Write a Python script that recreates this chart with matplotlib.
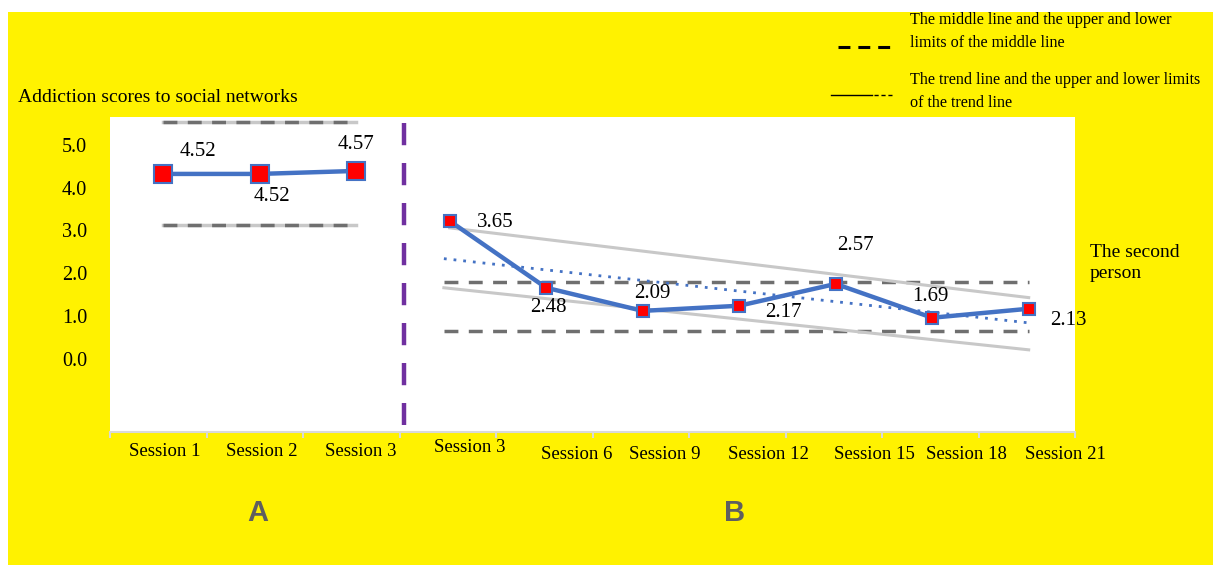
import matplotlib
matplotlib.use("Agg")
import matplotlib.pyplot as plt
import numpy as np
from matplotlib.patches import Rectangle
from matplotlib.transforms import blended_transform_factory

# Data (plotted positions on the y scale) and the printed labels
sessions_a = ["Session 1", "Session 2", "Session 3"]
sessions_b = ["Session 3", "Session 6", "Session 9", "Session 12", "Session 15", "Session 18", "Session 21"]
scores_a = [4.32, 4.32, 4.39]
scores_b = [3.22, 1.66, 1.12, 1.24, 1.75, 0.96, 1.17]
labels_a = ["4.52", "4.52", "4.57"]
labels_b = ["3.65", "2.48", "2.09", "2.17", "2.57", "1.69", "2.13"]

# middle line limits (upper, lower) and trend lines (start, end)
mid_a = [5.54, 3.13]
mid_b = [1.80, 0.65]
trend_upper = [3.06, 1.43]
trend_lower = [1.66, 0.21]
trend_mid = [2.34, 0.84]

yticks = [0.0, 1.0, 2.0, 3.0, 4.0, 5.0]

W, H = 1216, 566
YELLOW = "#fff200"
BLUE = "#4472c4"
SERIF = "Liberation Serif"


def fx(x):
    return x / W


def fy(y):
    return 1 - y / H


fig = plt.figure(figsize=(W / 100, H / 100), dpi=100)
fig.patch.set_facecolor("white")
fig.patches.append(Rectangle((fx(8), fy(565)), fx(1205), 553 / H, transform=fig.transFigure,
                             facecolor=YELLOW, edgecolor="none", zorder=-5))

ax = fig.add_axes([fx(110), fy(432), fx(965), 315 / H])
ax.set_zorder(2)
ax.set_facecolor("white")
ax.set_xlim(0, 10)
ax.set_ylim(-1.71, 5.65)
for s in ["top", "right", "left"]:
    ax.spines[s].set_visible(False)
ax.spines["bottom"].set_color("#d9d9d9")
ax.spines["bottom"].set_linewidth(1.5)
ax.set_xticks(np.arange(0, 11))
ax.set_xticklabels([])
ax.tick_params(axis="x", length=4, color="#d9d9d9", width=1.5)
ax.set_yticks(yticks)
ax.set_yticklabels([f"{v:.1f}" for v in yticks], fontfamily=SERIF, fontsize=14.5)
ax.tick_params(axis="y", length=0, pad=16.5)

xa = np.arange(len(scores_a)) + 0.55
xb = np.arange(len(scores_b)) + 3.52

# panel A: middle line limits
for v in mid_a:
    ax.plot([xa[0], xa[-1]], [v, v], color="#c8c8c8", lw=2.5, zorder=2)
    ax.plot([xa[0], xa[-1]], [v, v], color="#6f6f6f", lw=2.5, ls=(0, (4, 3)), zorder=2)
ax.plot(xa, scores_a, color=BLUE, lw=3.2, marker="s", ms=13.5, mfc="red", mec=BLUE, mew=1.5, zorder=4)
offs_a = [(35, 22), (12, -23), (0, 26)]
for x, y, t, o in zip(xa, scores_a, labels_a, offs_a):
    ax.annotate(t, (x, y), xytext=o, textcoords="offset pixels", ha="center", va="center",
                fontfamily=SERIF, fontsize=15)

# divider
ax.plot([3.05, 3.05], [5.52, -1.55], color="#7030a0", lw=3.2, ls=(0, (5, 4)), zorder=3)

# panel B: limits and trends
for v in mid_b:
    ax.plot([xb[0] - 0.06, xb[-1]], [v, v], color="#6f6f6f", lw=2.5, ls=(0, (4, 3)), zorder=2)
ax.plot([xb[0], xb[-1]], trend_upper, color="#c8c8c8", lw=2.2, zorder=2)
ax.plot([xb[0] - 0.06, xb[-1]], trend_lower, color="#c8c8c8", lw=2.2, zorder=2)
ax.plot([xb[0] - 0.06, xb[-1]], trend_mid, color=BLUE, lw=2, ls=(0, (1, 2.5)), zorder=3)
ax.plot(xb, scores_b, color=BLUE, lw=3.2, marker="s", ms=9, mfc="red", mec=BLUE, mew=1.5, zorder=4)
offs_b = [(46, -1), (2, -20), (10, 17), (44, -7), (20, 38), (-2, 21), (40, -12)]
for x, y, t, o in zip(xb, scores_b, labels_b, offs_b):
    ax.annotate(t, (x, y), xytext=o, textcoords="offset pixels", ha="center", va="center",
                fontfamily=SERIF, fontsize=15, zorder=5)

# session labels under the axis
trans = blended_transform_factory(ax.transData, ax.transAxes)
pos_a = [0.57, 1.57, 2.6]
pos_b = [3.73, 4.84, 5.75, 6.82, 7.92, 8.87, 9.9]
for p, s in zip(pos_a, sessions_a):
    ax.text(p, -0.063, s, transform=trans, ha="center", va="center", fontfamily=SERIF, fontsize=13.5)
for i, (p, s) in enumerate(zip(pos_b, sessions_b)):
    yy = -0.048 if i == 0 else -0.07
    ax.text(p, yy, s, transform=trans, ha="center", va="center", fontfamily=SERIF, fontsize=13.5)

# texts around
fig.text(fx(18), fy(97), "Addiction scores to social networks", ha="left", va="center",
         fontfamily=SERIF, fontsize=14)
fig.text(fx(1090), fy(252), "The second", ha="left", va="center", fontfamily=SERIF, fontsize=14)
fig.text(fx(1090), fy(273), "person", ha="left", va="center", fontfamily=SERIF, fontsize=14)

fig.text(fx(910), fy(20), "The middle line and the upper and lower", ha="left", va="center",
         fontfamily=SERIF, fontsize=11.6)
fig.text(fx(910), fy(43), "limits of the middle line", ha="left", va="center", fontfamily=SERIF, fontsize=11.6)
fig.text(fx(910), fy(80), "The trend line and the upper and lower limits", ha="left", va="center",
         fontfamily=SERIF, fontsize=11.6)
fig.text(fx(910), fy(103), "of the trend line", ha="left", va="center", fontfamily=SERIF, fontsize=11.6)
fig.add_artist(plt.Line2D([fx(838), fx(890)], [fy(47), fy(47)], color="black", lw=2.2,
                          ls=(0, (3.9, 2.6))))
fig.add_artist(plt.Line2D([fx(831), fx(872)], [fy(95), fy(95)], color="black", lw=1))
fig.add_artist(plt.Line2D([fx(874), fx(892)], [fy(95), fy(95)], color="black", lw=1, ls=(0, (3, 2))))

fig.text(fx(258), fy(513), "A", ha="center", va="center", fontfamily="Liberation Sans",
         fontweight="bold", fontsize=21, color="#5f5f5f")
fig.text(fx(735), fy(513), "B", ha="center", va="center", fontfamily="Liberation Sans",
         fontweight="bold", fontsize=21, color="#5f5f5f")

fig.savefig("out.png", dpi=100)
